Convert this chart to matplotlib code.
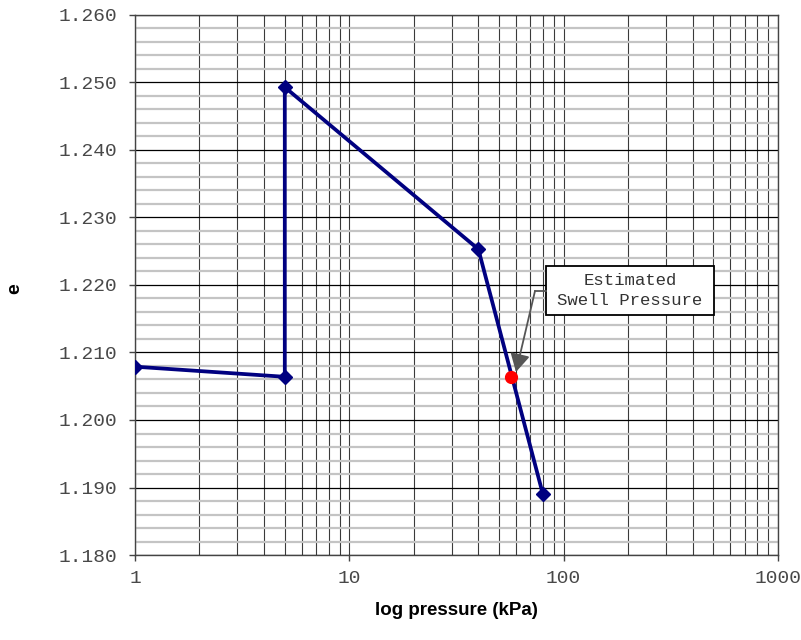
import numpy as np
import matplotlib
matplotlib.use('Agg')
import matplotlib.pyplot as plt
from matplotlib.patches import Rectangle
from matplotlib.ticker import FixedLocator, MultipleLocator, FuncFormatter, NullFormatter

# Daten
pressure = [1, 5, 5, 40, 80]
void_ratio = [1.2079, 1.2064, 1.2493, 1.2253, 1.1890]
swell_p = 56.8
swell_e = 1.2064

x_ticks = [1, 10, 100, 1000]

fig = plt.figure(figsize=(8.01, 6.40), dpi=100)
ax = fig.add_axes([0.1685, 0.1328, 0.8028, 0.8438])

ax.set_xscale('log')
ax.set_xlim(1, 1000)
ax.set_ylim(1.180, 1.260)

# Gitter
ax.yaxis.set_major_locator(MultipleLocator(0.010))
ax.yaxis.set_minor_locator(MultipleLocator(0.002))
minor_x = [m * 10 ** d for d in range(3) for m in range(2, 10)]
ax.xaxis.set_major_locator(FixedLocator(x_ticks))
ax.xaxis.set_minor_locator(FixedLocator(minor_x))
ax.xaxis.set_minor_formatter(NullFormatter())

ax.grid(axis='y', which='minor', color='#c4c4c4', linewidth=1.6)
ax.grid(axis='y', which='major', color='black', linewidth=0.9)
ax.grid(axis='x', which='both', color='#3a3a3a', linewidth=0.8)
ax.set_axisbelow(True)

ax.plot(pressure, void_ratio, color='#000080', linewidth=2.7, marker='D',
        markersize=7, zorder=3)
ax.plot([swell_p], [swell_e], 'o', color='red', markersize=8.5, zorder=4)

# Beschriftung (Kasten + Pfeil)
ax.add_patch(Rectangle((82.7, 1.21556), 502.8 - 82.7, 1.22281 - 1.21556,
                       facecolor='white', edgecolor='black', linewidth=1.3, zorder=5))
ax.text(204, 1.21919, 'Estimated\nSwell Pressure', family='Liberation Mono', fontsize=12.5,
        ha='center', va='center', color='#333333', linespacing=1.45, zorder=6)
ax.plot([73.5, 82.7], [1.21911, 1.21911], color='#555555', linewidth=1.3, zorder=5)
ax.annotate('', xy=(59.9, 1.20711), xytext=(73.5, 1.21911),
            arrowprops=dict(arrowstyle='-|>,head_length=1.1,head_width=0.6',
                            color='#555555', linewidth=1.3, shrinkA=0, shrinkB=0),
            zorder=5)

ax.yaxis.set_major_formatter(FuncFormatter(lambda v, p: '%.3f' % v))
ax.xaxis.set_major_formatter(FuncFormatter(lambda v, p: '%g' % v))
for lab in ax.get_xticklabels() + ax.get_yticklabels():
    lab.set_family('Liberation Mono')
    lab.set_fontsize(14)

ax.tick_params(which='major', direction='out', length=4, width=1, colors='#444444',
               labelcolor='#484848')
ax.tick_params(which='minor', length=0)
ax.tick_params(axis='x', pad=7)
ax.tick_params(axis='y', pad=9)

for s in ax.spines.values():
    s.set_color('#444444')
    s.set_linewidth(1)

label_font = ['Liberation Sans Narrow', 'Liberation Sans']
ax.set_xlabel('log pressure (kPa)', family=label_font, fontweight='bold', fontsize=13.5)
ax.xaxis.set_label_coords(0.5, -0.102)
ax.xaxis.label.set_va('center')
ax.set_ylabel('e', family=label_font, fontweight='bold', fontsize=14)
ax.yaxis.set_label_coords(-0.1866, 0.493)
ax.yaxis.label.set_va('center')

fig.savefig('out.png', dpi=100)
